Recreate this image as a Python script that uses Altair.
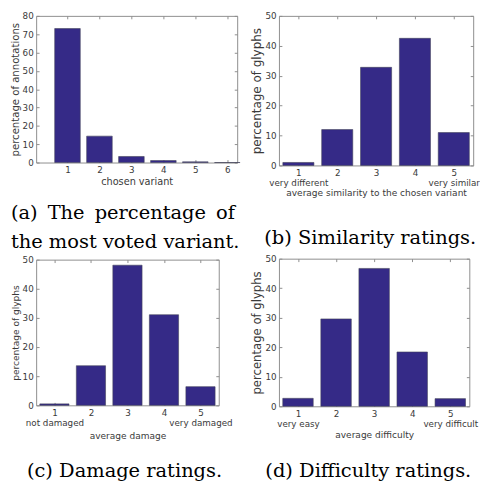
import altair as alt
import pandas as pd

# ---------------- data ----------------
variant_ticks = [1, 2, 3, 4, 5, 6]
variant_pct = [73.1, 14.4, 3.3, 1.1, 0.4, 0.0]

rating_ticks = [1, 2, 3, 4, 5]
similarity_pct = [1.0, 12.0, 32.8, 42.5, 11.0]
damage_pct = [0.5, 13.6, 48.1, 31.1, 6.4]
difficulty_pct = [2.7, 29.6, 46.7, 18.4, 2.6]

low_labels = ["very different", "not damaged", "very easy"]
high_labels = ["very similar", "very damaged", "very difficult"]

x_titles = ["chosen variant", "average similarity to the chosen variant",
            "average damage", "average difficulty"]
y_titles = ["percentage of annotations", "percentage of glyphs",
            "percentage of glyphs", "percentage of glyphs"]
captions = [["(a)\u2009 The\u2009 percentage\u2009 of", "the most voted variant."],
            "(b) Similarity ratings.", "(c) Damage ratings.", "(d) Difficulty ratings."]
y_max = [80, 50, 50, 50]

BAR = "#352a87"
FRAME = "#8c8c8c"
TEXT = "#3a3a3a"


def panel(xs, ys, xdom, ymax, w, h, xtitle, ytitle, caption, cap_anchor, cap_dx,
          cap_offset, low=None, high=None, xtfs=9.3, ytfs=9.3, top_extra=0, xtpad=1):
    df = pd.DataFrame({"x": xs, "y": ys})
    xscale = alt.Scale(domain=xdom, nice=False, zero=False)
    yscale = alt.Scale(domain=[0, ymax], nice=False)
    if low:
        expr = (f"datum.value == {xs[0]} ? ['{xs[0]}', '{low}'] : "
                f"datum.value == {xs[-1]} ? ['{xs[-1]}', '{high}'] : datum.label")
    else:
        expr = "datum.label"
    yvals = list(range(0, ymax + 1, 10))
    xaxis = alt.Axis(orient="bottom", values=xs, title=xtitle, offset=-3, tickSize=3,
                     domain=False, labelPadding=3, labelExpr=expr, labelLineHeight=11,
                     titlePadding=xtpad, labelFontSize=9, titleFontSize=xtfs, grid=False,
                     labelAngle=0)
    yaxis = alt.Axis(orient="left", values=yvals, title=ytitle, offset=-3, tickSize=3,
                     domain=False, labelPadding=3, titlePadding=2, labelFontSize=9,
                     titleFontSize=ytfs, grid=False)
    base = alt.Chart(df).transform_calculate(x0="datum.x - 0.4", x1="datum.x + 0.4")
    bars = base.mark_bar(color=BAR, stroke="#44445a", strokeWidth=0.6).encode(
        x=alt.X("x0:Q", scale=xscale, axis=xaxis),
        x2="x1:Q",
        y=alt.Y("y:Q", scale=yscale, axis=yaxis),
        y2=alt.datum(0),
    )
    mirror = base.mark_point(opacity=0).encode(
        x=alt.X("x:Q", scale=xscale,
                axis=alt.Axis(orient="top", values=xs, title=None, labels=False,
                              offset=-3, tickSize=3, domain=False, grid=False)),
        y=alt.Y("y:Q", scale=yscale,
                axis=alt.Axis(orient="right", values=yvals, title=None, labels=False,
                              offset=-3, tickSize=3, domain=False, grid=False)),
    )
    layers = [bars, mirror]
    if top_extra > 0:
        # invisible ticks that only reserve room above the panel
        spacer = base.mark_point(opacity=0).encode(
            x=alt.X("x:Q", scale=xscale,
                    axis=alt.Axis(orient="top", values=xs[:1], title=None, labels=False,
                                  offset=-3, tickSize=7.5 + top_extra,
                                  tickColor="transparent", domain=False, grid=False)),
            y=alt.Y("y:Q", scale=yscale, axis=None),
        )
        layers.append(spacer)
    title = alt.TitleParams(text=caption, orient="bottom", anchor=cap_anchor, frame="group",
                            dx=cap_dx, offset=cap_offset, font="DejaVu Serif", fontSize=20,
                            fontWeight="normal", color="black", lineHeight=30)
    return alt.layer(*layers).resolve_axis(x="independent", y="independent").properties(
        width=w, height=h, title=title)


a = panel(variant_ticks, variant_pct, [0.02, 6.31], y_max[0], 207, 151, x_titles[0],
          y_titles[0], captions[0], "start", -26, 17, xtfs=10, ytfs=10.4, xtpad=3)
b = panel(rating_ticks, similarity_pct, [0.5, 5.5], y_max[1], 200, 154, x_titles[1],
          y_titles[1], captions[1], "middle", -6, 32, low_labels[0], high_labels[0],
          ytfs=12.3, top_extra=6)
c = panel(rating_ticks, damage_pct, [0.5, 5.5], y_max[2], 188, 150, x_titles[2],
          y_titles[2], captions[2], "middle", -3, 21, low_labels[1], high_labels[1],
          ytfs=9.3, xtpad=4)
d = panel(rating_ticks, difficulty_pct, [0.5, 5.5], y_max[3], 196, 152, x_titles[3],
          y_titles[3], captions[3], "middle", -6, 22, low_labels[2], high_labels[2],
          ytfs=12, xtpad=2)

col1 = alt.vconcat(a, c, spacing=2)
col2 = alt.vconcat(b, d, spacing=5)

chart = alt.hconcat(col1, col2, spacing=9).properties(
    padding={"left": 2, "top": -11, "right": 0, "bottom": 0}
).configure_view(stroke=FRAME, strokeWidth=1).configure_axis(
    labelFont="DejaVu Sans", titleFont="DejaVu Sans", labelColor=TEXT, titleColor=TEXT,
    titleFontWeight="normal", tickColor=FRAME, tickWidth=1
)

chart.save("out.html", embed_options={"renderer": "svg", "actions": False})
